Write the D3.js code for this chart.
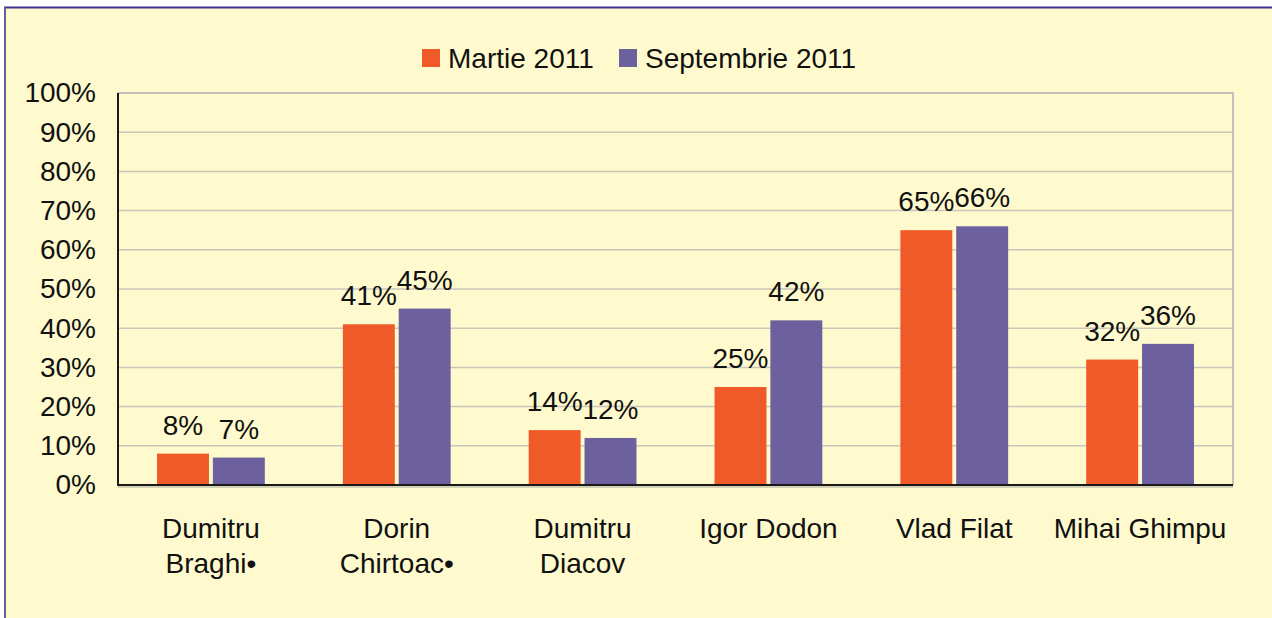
<!DOCTYPE html>
<html>
<head>
<meta charset="utf-8">
<script src="https://cdn.jsdelivr.net/npm/d3@7"></script>
<style>
  html, body { margin: 0; padding: 0; background: #ffffff; }
  svg { display: block; }
  text { font-family: "Liberation Sans", Arial, sans-serif; fill: #111; }
</style>
</head>
<body>
<svg id="chart" width="1272" height="618"></svg>
<script>
// Candidate names (two-line labels split on "\n")
const categories = [
  "Dumitru\nBraghi\u2022",
  "Dorin\nChirtoac\u2022",
  "Dumitru\nDiacov",
  "Igor Dodon",
  "Vlad Filat",
  "Mihai Ghimpu"
];
const seriesNames = ["Martie 2011", "Septembrie 2011"];
const martie = [8, 41, 14, 25, 65, 32];
const septembrie = [7, 45, 12, 42, 66, 36];
const yTicks = [0, 10, 20, 30, 40, 50, 60, 70, 80, 90, 100];

const colors = ["#F05A28", "#6C609E"];
const seriesValues = [martie, septembrie];
const FONT = 28;

const svg = d3.select("#chart");
const W = 1272, H = 618;

// Chart background and outer frame
svg.append("rect").attr("x", 5).attr("y", 8).attr("width", W).attr("height", H)
  .attr("fill", "#FEFACD");
svg.append("line").attr("x1", 4).attr("x2", W).attr("y1", 7.5).attr("y2", 7.5)
  .attr("stroke", "#3B3090").attr("stroke-width", 2);
svg.append("line").attr("x1", 5).attr("x2", 5).attr("y1", 7).attr("y2", H)
  .attr("stroke", "#6A5C9C").attr("stroke-width", 2);

const plot = { left: 118, right: 1233, top: 93, bottom: 485 };

const x0 = d3.scaleBand()
  .domain(categories)
  .range([plot.left, plot.right])
  .paddingInner(0.42)
  .paddingOuter(0.21);

const x1 = d3.scaleBand()
  .domain(seriesNames)
  .range([0, x0.bandwidth()])
  .paddingInner(0.07)
  .paddingOuter(0);

const y = d3.scaleLinear().domain([0, 100]).range([plot.bottom, plot.top]);

// Horizontal gridlines
svg.append("g")
  .selectAll("line")
  .data(yTicks.filter(t => t > 0 && t < 100))
  .join("line")
  .attr("x1", plot.left).attr("x2", plot.right)
  .attr("y1", d => y(d)).attr("y2", d => y(d))
  .attr("stroke", "#C9C6BC").attr("stroke-width", 1.5);

// Light top/right border of the plot area
svg.append("path")
  .attr("d", `M${plot.left},${y(100)}H${plot.right}V${plot.bottom}`)
  .attr("fill", "none").attr("stroke", "#C2C0B8").attr("stroke-width", 2);

// Bars
const groups = svg.append("g")
  .selectAll("g")
  .data(categories)
  .join("g")
  .attr("transform", d => `translate(${x0(d)},0)`);

groups.selectAll("rect")
  .data((d, i) => seriesNames.map((s, k) => ({ s, v: seriesValues[k][i], k })))
  .join("rect")
  .attr("x", d => x1(d.s))
  .attr("width", x1.bandwidth())
  .attr("y", d => y(d.v))
  .attr("height", d => y(0) - y(d.v))
  .attr("fill", d => colors[d.k]);

// Value labels
groups.selectAll("text.val")
  .data((d, i) => seriesNames.map((s, k) => ({ s, v: seriesValues[k][i], k })))
  .join("text")
  .attr("class", "val")
  .attr("x", d => x1(d.s) + x1.bandwidth() / 2)
  .attr("y", d => y(d.v) - 19)
  .attr("text-anchor", "middle")
  .attr("font-size", FONT)
  .text(d => d.v + "%");

// Axis lines
svg.append("line")
  .attr("x1", plot.left).attr("x2", plot.left)
  .attr("y1", y(100)).attr("y2", plot.bottom + 1)
  .attr("stroke", "#1a1a1a").attr("stroke-width", 2);
svg.append("line")
  .attr("x1", plot.left).attr("x2", plot.right)
  .attr("y1", plot.bottom).attr("y2", plot.bottom)
  .attr("stroke", "#1a1a1a").attr("stroke-width", 2);
svg.append("line")
  .attr("x1", plot.left).attr("x2", plot.right)
  .attr("y1", plot.bottom + 2).attr("y2", plot.bottom + 2)
  .attr("stroke", "#A9A79E").attr("stroke-width", 1);

// Y axis labels
const yAxis = d3.axisLeft(y).tickValues(yTicks).tickSize(0).tickPadding(22)
  .tickFormat(d => d + "%");
const yg = svg.append("g").attr("transform", `translate(${plot.left},0)`).call(yAxis);
yg.select(".domain").remove();
yg.selectAll("text").attr("font-size", FONT)
  .attr("font-family", "'Liberation Sans', Arial, sans-serif").attr("fill", "#111");

// Category labels
const catText = svg.append("g")
  .selectAll("text")
  .data(categories)
  .join("text")
  .attr("x", d => x0(d) + x0.bandwidth() / 2)
  .attr("y", 538)
  .attr("text-anchor", "middle")
  .attr("font-size", FONT);
catText.selectAll("tspan")
  .data(d => d.split("\n"))
  .join("tspan")
  .attr("x", function () { return d3.select(this.parentNode).attr("x"); })
  .attr("dy", (d, i) => i === 0 ? 0 : 35)
  .text(d => d);

// Legend
const legendItems = [
  { name: seriesNames[0], color: colors[0], x: 422 },
  { name: seriesNames[1], color: colors[1], x: 619 }
];
const lg = svg.append("g").selectAll("g").data(legendItems).join("g")
  .attr("transform", d => `translate(${d.x},49)`);
lg.append("rect").attr("width", 18).attr("height", 18).attr("fill", d => d.color);
lg.append("text").attr("x", 26).attr("y", 19).attr("font-size", FONT).text(d => d.name);
</script>
</body>
</html>
